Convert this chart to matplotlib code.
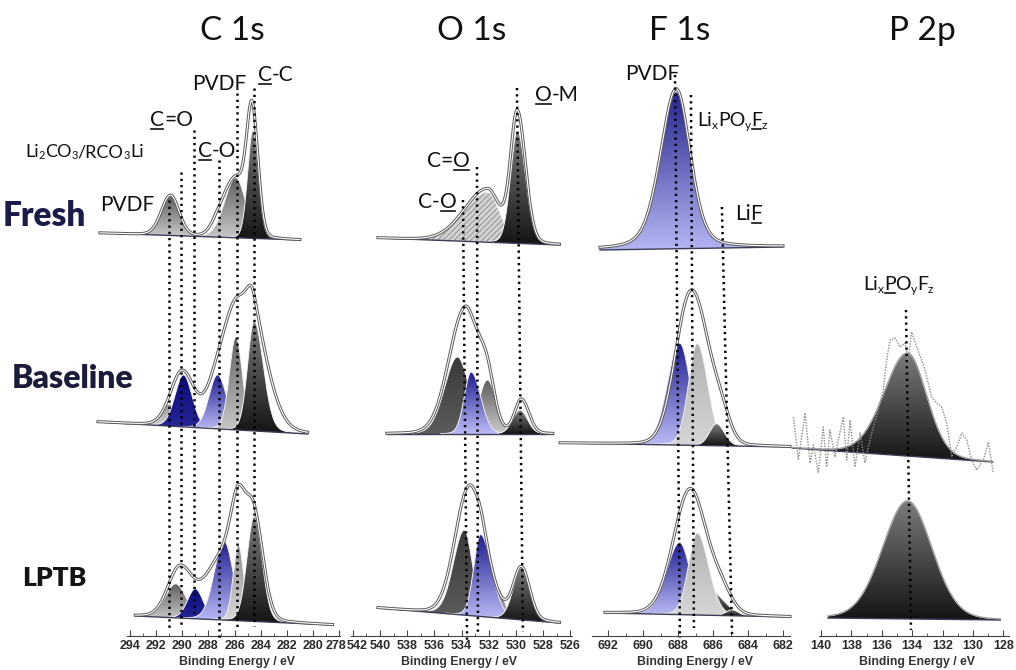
import numpy as np
import matplotlib
matplotlib.use('Agg')
import matplotlib.pyplot as plt
from matplotlib.colors import LinearSegmentedColormap
from matplotlib.lines import Line2D
from matplotlib.transforms import ScaledTranslation

plt.rcParams['font.family'] = ['Lato', 'DejaVu Sans']
plt.rcParams['hatch.linewidth'] = 0.6

W, H = 1016, 670

# ---- data: fitted components (centre eV, height, sigma high-BE side, sigma low-BE side, style)
# C 1s
c1s_fresh_range = (296.3, 281.0)
c1s_fresh_bg = (403, 396)
c1s_fresh_peaks = [(290.9, 39, .7, .65, 'gray'), (285.9, 60, .85, .75, 'gray'),
                   (284.6, 108, .4, .42, 'dark')]
c1s_fresh_env = [(290.9, 40, .7, .65), (287.2, 12, .6, .6), (285.9, 58, .85, .75),
                 (284.65, 122, .42, .45)]

c1s_base_range = (296.45, 280.4)
c1s_base_bg = (214, 202)
c1s_base_peaks = [(291.0, 22, .6, .6, 'lgray'), (289.9, 52, .65, .65, 'navy'),
                  (287.3, 54, .65, .7, 'blue'), (285.9, 93, .5, .5, 'gray'),
                  (284.5, 110, .5, .7, 'dark')]
c1s_base_env = [(290.0, 55, .9, .9), (287.2, 50, .9, .9), (285.7, 112, .9, .9),
                (284.5, 88, .55, 1.2)]

c1s_lptb_range = (293.6, 278.5)
c1s_lptb_bg = (20, 11)
c1s_lptb_peaks = [(290.5, 34, .8, .8, 'gray'), (289.0, 30, .6, .6, 'navy'),
                  (286.8, 79, .75, .7, 'blue'), (285.7, 76, .4, .4, 'lgray'),
                  (284.5, 105, .55, .6, 'dark')]
c1s_lptb_env = [(290.2, 50, .9, 1.0), (287.0, 60, 1.2, 1.0), (285.7, 95, .6, .6),
                (284.5, 100, .6, .7)]

# O 1s
o1s_fresh_range = (540.15, 526.8)
o1s_fresh_bg = (398, 391)
o1s_fresh_peaks = [(532.1, 50, 1.7, .9, 'hatch'), (529.9, 113, .5, .6, 'dark')]
o1s_fresh_env = [(532.1, 53, 1.7, .9), (529.9, 130, .5, .6)]

o1s_base_range = (539.5, 527.3)
o1s_base_bg = (202, 202)
o1s_base_peaks = [(534.3, 77, .95, .85, 'dark2'), (532.1, 54, .65, .65, 'gray'),
                  (533.3, 62, .5, .7, 'blue'), (529.7, 24, .55, .55, 'dark')]
o1s_base_env = [(533.8, 122, 1.15, .85), (532.2, 60, .7, .6), (529.6, 34, .5, .55)]

o1s_lptb_range = (540.15, 526.8)
o1s_lptb_bg = (28, 13)
o1s_lptb_peaks = [(533.8, 85, .8, .6, 'dark2'), (531.4, 32, .5, .5, 'gray'),
                  (532.6, 82, .5, .8, 'blue'), (529.6, 52, .6, .6, 'dark')]
o1s_lptb_env = [(533.5, 125, 1.0, .8), (532.4, 45, .5, .9), (529.6, 52, .6, .6)]

# F 1s
f1s_fresh_range = (692.46, 682.0)
f1s_fresh_bg = (386, 389)
f1s_fresh_peaks = [(688.1, 157, .9, .8, 'fblue', .3)]
f1s_fresh_env = [(688.1, 160, .9, .8, .3)]

f1s_base_range = (694.74, 681.6)
f1s_base_bg = (193, 189)
f1s_base_peaks = [(687.9, 102, .7, .6, 'blue'), (686.9, 102, .5, .6, 'pale'),
                  (685.8, 22, .4, .45, 'dark')]
f1s_base_env = [(687.5, 112, .8, .8), (686.6, 68, .8, .8), (685.5, 20, .5, .5)]

f1s_lptb_range = (692.17, 681.6)
f1s_lptb_bg = (23, 19)
f1s_lptb_peaks = [(687.9, 72, .75, .6, 'blue'), (686.2, 25, .6, .8, 'dark'),
                  (686.9, 82, .5, .65, 'pale'), (684.9, 6, .35, .35, 'dark')]
f1s_lptb_env = [(687.3, 126, .95, .95), (685.5, 18, .6, .6)]

# P 2p
p2p_base_range = (141.9, 128.7)
p2p_base_bg = (188, 174)
p2p_base_peaks = [(134.3, 103, 1.55, 1.25, 'dark')]
p2p_base_env = [(134.3, 103, 1.55, 1.25)]
p2p_raw_ev = [141.82, 141.49, 141.05, 140.72, 140.50, 140.18, 139.85, 139.63, 139.41,
              139.08, 138.86, 138.53, 138.31, 138.09, 137.76, 137.43, 137.11, 136.89,
              136.56, 136.23, 135.90, 135.68, 135.46, 135.13, 134.80, 134.47, 134.26,
              134.04, 133.70, 133.38, 133.16, 132.72, 132.39, 132.06, 131.73, 131.40,
              131.07, 130.74, 130.41, 130.09, 129.76, 129.32, 128.99, 128.67]
p2p_raw_int = [219, 176, 223, 173, 191, 163, 209, 169, 206, 179, 196, 219, 176, 216,
               169, 203, 173, 189, 209, 226, 246, 276, 296, 298, 289, 293, 276, 304,
               289, 276, 266, 239, 233, 229, 213, 179, 189, 203, 196, 176, 166, 176,
               194, 163]

p2p_lptb_range = (139.54, 128.2)
p2p_lptb_bg = (18, 16)
p2p_lptb_peaks = [(134.3, 118, 1.65, 1.6, 'dark')]
p2p_lptb_env = [(134.3, 118, 1.65, 1.6)]

# reference lines (eV at top, eV at bottom, top, bottom)
c1s_lines = [(291.0, 291.0, 436, 8), (290.1, 290.1, 464, 10), (289.1, 289.1, 506, 21),
             (287.2, 287.2, 476, -4), (285.8, 285.8, 543, 8), (284.5, 284.5, 548, 10)]
o1s_lines = [(533.9, 533.6, 436, -4), (532.87, 532.8, 469, 4), (529.93, 529.49, 548, 4)]
f1s_lines = [(688.17, 687.89, 561, -2), (687.26, 687.09, 541, 8), (685.49, 684.91, 429, 1)]
p2p_lines = [(134.41, 134.08, 326, 6)]

GRAD = {
    'gray': ('#5e5e5e', '#cacaca'),
    'lgray': ('#8e8e8e', '#dadada'),
    'pale': ('#b0b0b0', '#d6d6d6'),
    'dark': ('#7c7c7c', '#141414'),
    'dark2': ('#3a3a3a', '#5c5c5c'),
    'navy': ('#0b0b78', '#26269a'),
    'blue': ('#1d1d92', '#bcbcf6'),
    'fblue': ('#24248e', '#b4b6f2'),
}


def peak(x, c, h, s_hi, s_lo, eta=0.1):
    s = np.where(x > c, s_hi, s_lo)
    u = (x - c) / s
    return h * ((1 - eta) * np.exp(-u ** 2 / 2) + eta / (1 + (u / 1.1774) ** 2))


def grad_fill(ax, x, y0, y1, colors, z):
    poly = ax.fill_between(x, y0, y1, facecolor='none', edgecolor='none', zorder=z)
    cmap = LinearSegmentedColormap.from_list('g', [colors[1], colors[0]])
    grad = np.linspace(0, 1, 256).reshape(-1, 1)
    im = ax.imshow(grad, extent=[x.max(), x.min(), y0.min(), y1.max()], origin='lower',
                   aspect='auto', cmap=cmap, zorder=z)
    im.set_clip_path(poly.get_paths()[0], transform=ax.transData)


def draw(ax, rng, bg, peaks, env, double=True):
    x = np.linspace(rng[0], rng[1], 800)
    base = np.linspace(bg[0], bg[1], 800)
    for i, p in enumerate(peaks):
        eta = p[5] if len(p) > 5 else 0.1
        y = peak(x, *p[:4], eta=eta)
        m = y > 0.4
        if p[4] == 'hatch':
            ax.fill_between(x[m], base[m], base[m] + y[m], facecolor='#d2d2d2',
                            edgecolor='#8a8a8a', hatch='//////', lw=0, zorder=5 + i)
        else:
            grad_fill(ax, x[m], base[m], base[m] + y[m], GRAD[p[4]], 5 + i)
        ax.plot(x[m], base[m] + y[m], color='#f4f4f4', lw=0.7, zorder=5.5 + i)
    ax.plot(x, base, color='#3c3c55', lw=1.0, zorder=15)
    e = sum(peak(x, *p) for p in env)
    if double:
        ax.plot(x, base + e, color='#5a5a5a', lw=2.2, zorder=20)
        ax.plot(x, base + e, color='white', lw=0.8, zorder=21)
    else:
        ax.plot(x, base + e, color='#a0a0a0', lw=1.0, zorder=20)


def dotted(ax, lines):
    for et, eb, yt, yb in lines:
        ax.plot([et, eb], [yt, yb], color='black', lw=1.8, linestyle=(0, (0.9, 1.6)),
                zorder=30, clip_on=False)


fig = plt.figure(figsize=(W / 100, H / 100), dpi=100)

# panel layout: pixel span, anchor eV at pixel, px per eV, spine bounds, ticks, label centre
panels = [
    dict(px=(95, 355), anchor=(294, 130), k=13.07, bounds=(277.9, 294.2),
         ticks=(278, 294), lab=237),
    dict(px=(345, 580), anchor=(540, 380), k=13.6, bounds=(525.9, 542.1),
         ticks=(526, 542), lab=459),
    dict(px=(555, 795), anchor=(692, 608), k=17.5, bounds=(681.6, 692.9),
         ticks=(682, 692), lab=695),
    dict(px=(790, 1016), anchor=(140, 821), k=15.2, bounds=(127.6, 140.1),
         ticks=(128, 140), lab=917),
]
axes = []
for p in panels:
    l, r = p['px']
    ax = fig.add_axes([l / W, (H - 636) / H, (r - l) / W, 596 / H])
    ev0, x0 = p['anchor']
    ax.set_xlim(ev0 + (x0 - l) / p['k'], ev0 - (r - x0) / p['k'])
    ax.set_ylim(0, 596)
    ax.patch.set_alpha(0)
    for s in ('left', 'right', 'top'):
        ax.spines[s].set_visible(False)
    ax.spines['bottom'].set_bounds(*p['bounds'])
    ax.spines['bottom'].set_color('#444444')
    ax.set_yticks([])
    t0, t1 = p['ticks']
    ax.set_xticks(np.arange(t0, t1 + 1, 2))
    ax.set_xticks(np.arange(t0, t1 + 1, 1), minor=True)
    ax.set_xticklabels([str(v) for v in np.arange(t0, t1 + 1, 2)],
                       fontsize=9, fontweight='bold', family='Liberation Sans',
                       color='#2a2a2a')
    ax.tick_params(axis='x', which='major', direction='in', length=4, width=0.8,
                   color='#444444', pad=3)
    ax.tick_params(axis='x', which='minor', direction='in', length=2.5, width=0.6,
                   color='#444444')
    ax.set_xlabel('Binding Energy / eV', fontsize=8.8, fontweight='bold',
                  color='#333333', family='Liberation Sans')
    ax.xaxis.set_label_coords((p['lab'] - l) / (r - l), -0.033)
    axes.append(ax)

ax1, ax2, ax3, ax4 = axes
# edge labels 278 / 542 sit apart as in the source figure
for ax, dx in [(ax1, -3), (ax2, 4)]:
    ticks = ax.xaxis.get_major_ticks()
    tk = ticks[0] if ax is ax1 else ticks[-1]
    tk.label1.set_transform(tk.label1.get_transform() +
                            ScaledTranslation(dx / 100, 0, fig.dpi_scale_trans))

draw(ax1, c1s_fresh_range, c1s_fresh_bg, c1s_fresh_peaks, c1s_fresh_env)
draw(ax1, c1s_base_range, c1s_base_bg, c1s_base_peaks, c1s_base_env)
draw(ax1, c1s_lptb_range, c1s_lptb_bg, c1s_lptb_peaks, c1s_lptb_env)
dotted(ax1, c1s_lines)

draw(ax2, o1s_fresh_range, o1s_fresh_bg, o1s_fresh_peaks, o1s_fresh_env)
draw(ax2, o1s_base_range, o1s_base_bg, o1s_base_peaks, o1s_base_env)
draw(ax2, o1s_lptb_range, o1s_lptb_bg, o1s_lptb_peaks, o1s_lptb_env)
dotted(ax2, o1s_lines)

draw(ax3, f1s_fresh_range, f1s_fresh_bg, f1s_fresh_peaks, f1s_fresh_env)
draw(ax3, f1s_base_range, f1s_base_bg, f1s_base_peaks, f1s_base_env)
draw(ax3, f1s_lptb_range, f1s_lptb_bg, f1s_lptb_peaks, f1s_lptb_env)
dotted(ax3, f1s_lines)

draw(ax4, p2p_base_range, p2p_base_bg, p2p_base_peaks, p2p_base_env, double=False)
ax4.plot(p2p_raw_ev, p2p_raw_int, color='#8c8c8c', lw=1.0, linestyle=(0, (1, 1)), zorder=25)
draw(ax4, p2p_lptb_range, p2p_lptb_bg, p2p_lptb_peaks, p2p_lptb_env, double=False)
dotted(ax4, p2p_lines)


def ptext(x, y, s, **kw):
    kw.setdefault('ha', 'center')
    kw.setdefault('va', 'center')
    fig.text(x / W, 1 - y / H, s, **kw)


renderer = fig.canvas.get_renderer()


def label(x, y, pieces, size):
    # pieces: (text, underlined, subscript); x = left edge, y = baseline (pixels)
    for s, ul, sub in pieces:
        fs = size * 0.62 if sub else size
        yb = y + size * 0.18 if sub else y
        t = fig.text(x / W, 1 - yb / H, s, fontsize=fs, ha='left', va='baseline',
                     color='#111111')
        w = t.get_window_extent(renderer).width
        if ul:
            fig.add_artist(Line2D([(x + 1) / W, (x + w - 1) / W], [1 - (y + 3) / H] * 2,
                                  color='#111111', lw=1.2, transform=fig.transFigure))
        x += w


# column titles
for x, s in [(232, 'C 1s'), (472, 'O 1s'), (680, 'F 1s'), (922, 'P 2p')]:
    ptext(x, 31, s, fontsize=24, color='#111111')

# row labels
ptext(3, 216, 'Fresh', ha='left', fontsize=24, fontweight='heavy', color='#1b1b4b')
ptext(12, 378, 'Baseline', ha='left', fontsize=23, fontweight='heavy', color='#1b1b3a')
ptext(22, 578, 'LPTB', ha='left', fontsize=19, fontweight='heavy', color='#141414')

# peak labels
label(100, 211, [('PVDF', 0, 0)], 15)
label(25, 157, [('Li', 0, 0), ('2', 0, 1), ('CO', 0, 0), ('3', 0, 1), ('/RCO', 0, 0),
                ('3', 0, 1), ('Li', 0, 0)], 13)
label(150, 126, [('C', 1, 0), ('=O', 0, 0)], 15)
label(198, 157, [('C', 1, 0), ('-O', 0, 0)], 15)
label(192, 90, [('PVDF', 0, 0)], 15)
label(258, 81, [('C', 1, 0), ('-C', 0, 0)], 15)
label(535, 101, [('O', 1, 0), ('-M', 0, 0)], 15)
label(427, 167, [('C=', 0, 0), ('O', 1, 0)], 15)
label(418, 208, [('C-', 0, 0), ('O', 1, 0)], 15)
label(625, 80, [('PVDF', 0, 0)], 15)
label(697, 126, [('Li', 0, 0), ('x', 0, 1), ('PO', 0, 0), ('y', 0, 1), ('F', 1, 0),
                 ('z', 0, 1)], 14)
label(735, 220, [('Li', 0, 0), ('F', 1, 0)], 15)
label(863, 290, [('Li', 0, 0), ('x', 0, 1), ('P', 1, 0), ('O', 0, 0), ('y', 0, 1),
                 ('F', 0, 0), ('z', 0, 1)], 14)

fig.savefig('out.png', dpi=100)
